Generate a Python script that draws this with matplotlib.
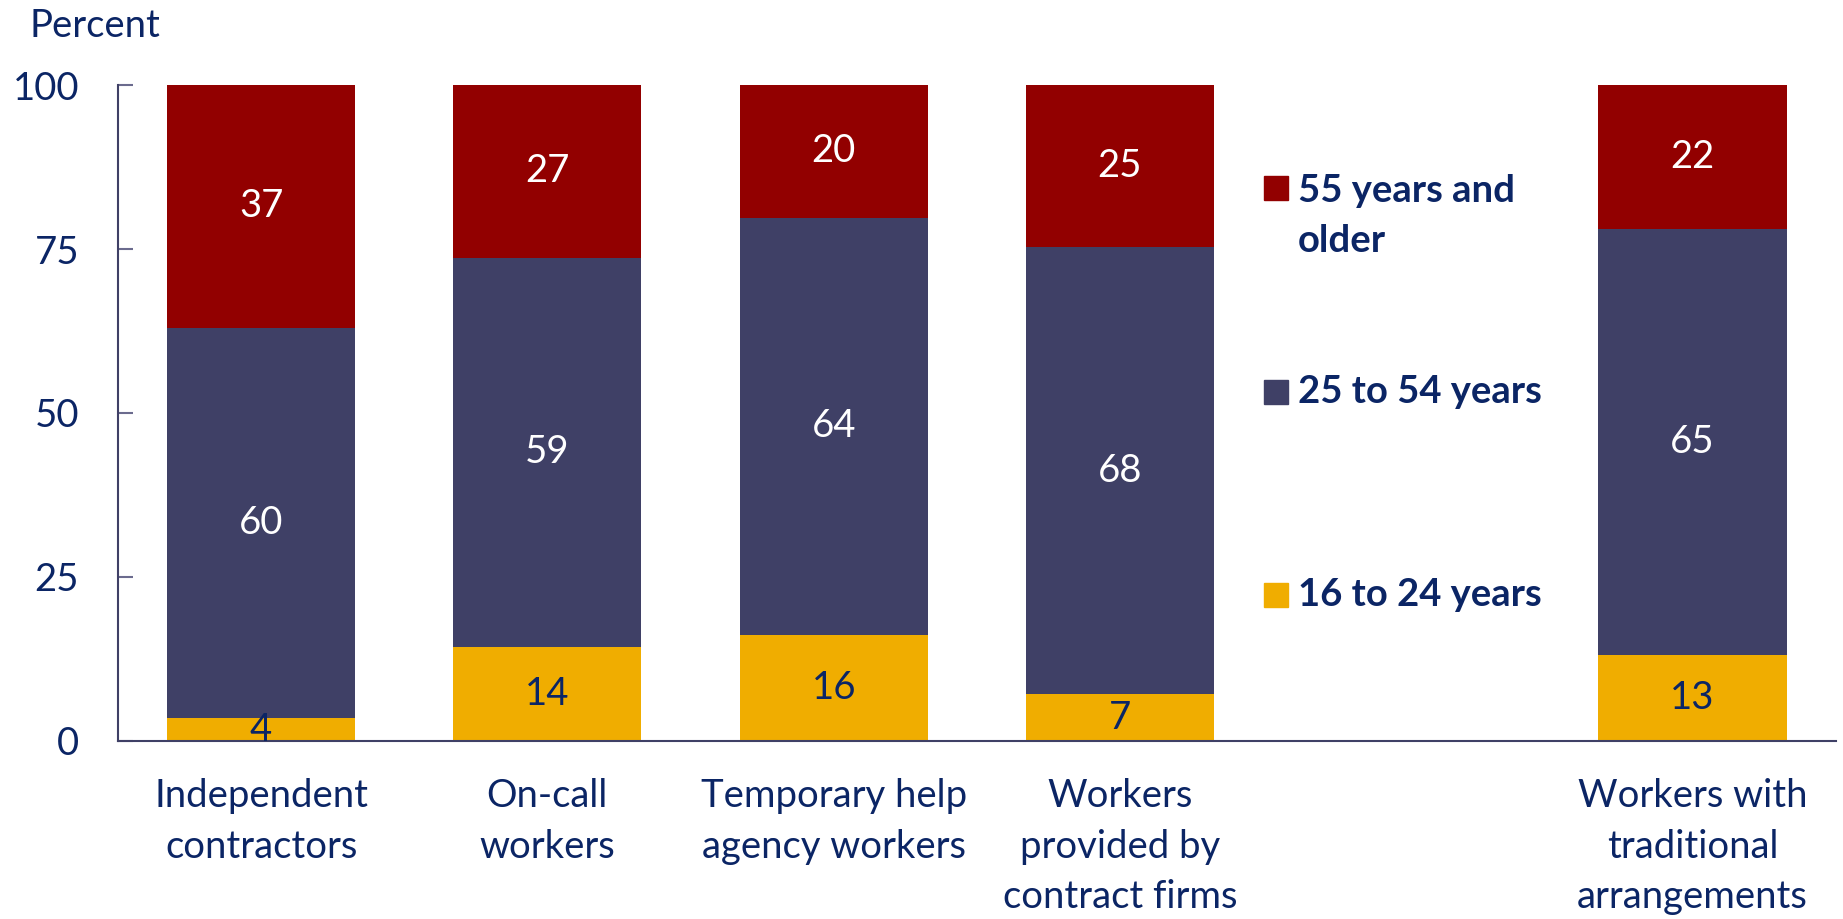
import matplotlib
matplotlib.use("Agg")
import matplotlib.pyplot as plt
from matplotlib.patches import Rectangle

# categories (the slot at position 4 stays empty for the legend)
categories = ["Independent\ncontractors", "On-call\nworkers", "Temporary help\nagency workers",
              "Workers\nprovided by\ncontract firms", "Workers with\ntraditional\narrangements"]
positions = [0, 1, 2, 3, 5]

# segment heights (percent)
young = [3.5, 14.4, 16.2, 7.1, 13.1]     # 16 to 24 years
prime = [59.5, 59.3, 63.6, 68.2, 64.9]   # 25 to 54 years
older = [37.0, 26.3, 20.2, 24.7, 22.0]   # 55 years and older

# printed labels
young_lbl = ["4", "14", "16", "7", "13"]
prime_lbl = ["60", "59", "64", "68", "65"]
older_lbl = ["37", "27", "20", "25", "22"]

series_names = ["16 to 24 years", "25 to 54 years", "55 years and\nolder"]

c_young = "#F0AD00"
c_prime = "#3F4066"
c_older = "#920000"
navy = "#0B2565"

plt.rcParams['font.family'] = ['Lato', 'DejaVu Sans']

fig = plt.figure(figsize=(18.43, 9.19), dpi=100)
ax = fig.add_axes([0.064, 0.1937, 0.932, 0.7138])

w = 0.657
b1 = ax.bar(positions, young, w, color=c_young)
b2 = ax.bar(positions, prime, w, bottom=young, color=c_prime)
bottom3 = [a + b for a, b in zip(young, prime)]
b3 = ax.bar(positions, older, w, bottom=bottom3, color=c_older)

fs = 27.5
ax.bar_label(b1, labels=young_lbl, label_type='center', color=navy, fontsize=fs)
ax.bar_label(b2, labels=prime_lbl, label_type='center', color='white', fontsize=fs)
ax.bar_label(b3, labels=older_lbl, label_type='center', color='white', fontsize=fs)

ax.set_xlim(-0.5, 5.5)
ax.set_ylim(0, 100)
ax.set_yticks([0, 25, 50, 75, 100])
ax.set_xticks(positions)
ax.set_xticklabels(categories, fontsize=fs, color=navy, linespacing=1.5)
ax.tick_params(axis='x', length=0, pad=27)
ax.tick_params(axis='y', direction='in', length=11, width=1.5, color='#6B6B8E',
               labelsize=fs, labelcolor=navy, pad=28)

for s in ['top', 'right']:
    ax.spines[s].set_visible(False)
for s in ['left', 'bottom']:
    ax.spines[s].set_color(c_prime)
    ax.spines[s].set_linewidth(1.5)

fig.text(0.016, 0.972, "Percent", fontsize=fs, color=navy, va='center', ha='left')

# legend drawn by hand in the gap
leg_colors = [c_young, c_prime, c_older]
leg_y = [0.2226, 0.532, 0.843]
for name, col, y in zip(series_names, leg_colors, leg_y):
    ax.add_patch(Rectangle((0.667, y - 0.018), 0.014, 0.036, transform=ax.transAxes,
                           color=col, clip_on=False))
    if '\n' in name:
        ax.text(0.687, y + 0.022, name, transform=ax.transAxes, fontsize=fs,
                fontweight='bold', color=navy, va='top', ha='left', linespacing=1.6)
    else:
        ax.text(0.687, y, name, transform=ax.transAxes, fontsize=fs, fontweight='bold',
                color=navy, va='center', ha='left')

fig.savefig("out.png", dpi=100)
